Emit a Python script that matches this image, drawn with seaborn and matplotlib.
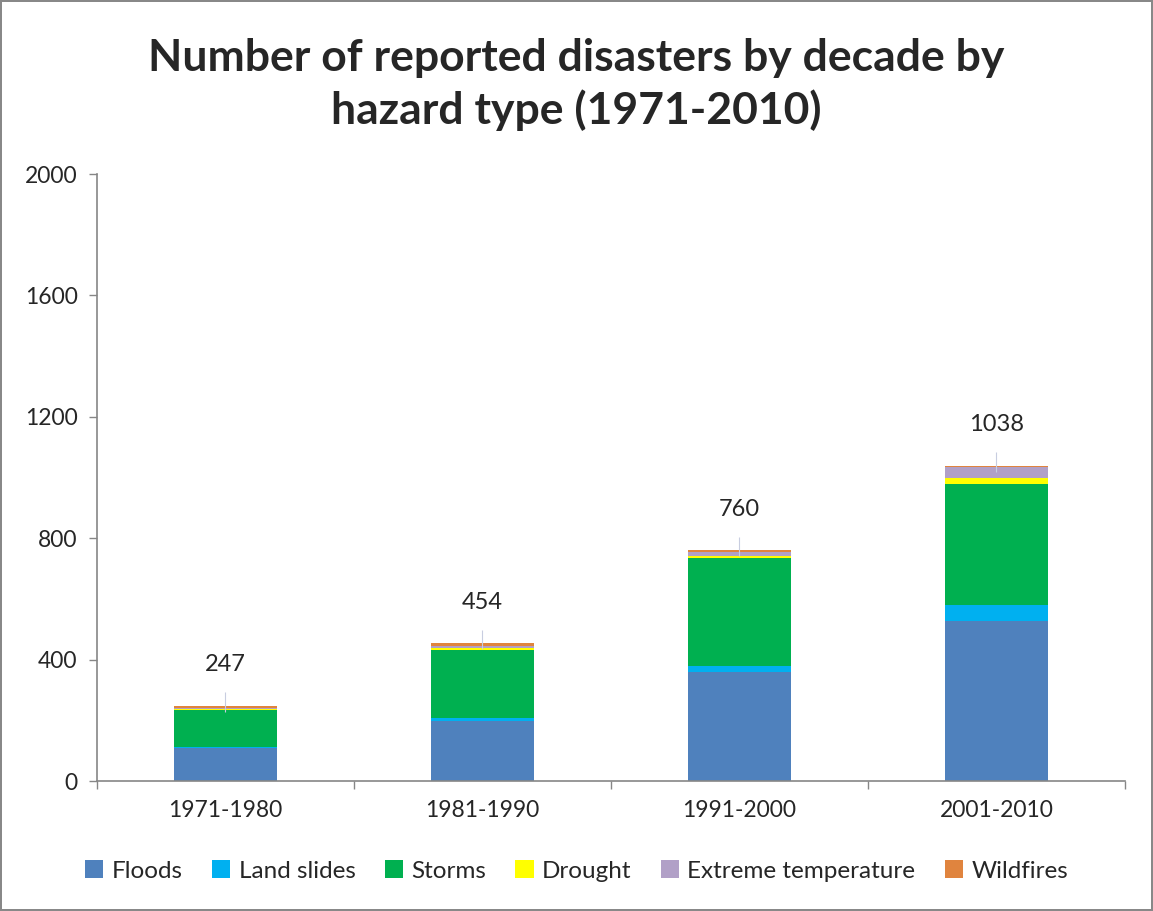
import numpy as np
import seaborn as sns
import matplotlib.pyplot as plt
from matplotlib.patches import Patch

sns.set_style('white')
plt.rcParams['font.family'] = ['Lato', 'DejaVu Sans']

decades = ['1971-1980', '1981-1990', '1991-2000', '2001-2010']
hazards = ['Floods', 'Land slides', 'Storms', 'Drought', 'Extreme temperature', 'Wildfires']
floods = [108, 198, 358, 528]
land_slides = [3, 11, 22, 51]
storms = [122, 224, 355, 400]
drought = [5, 5, 8, 19]
extreme_temp = [4, 8, 10, 35]
wildfires = [5, 8, 7, 5]
totals = [247, 454, 760, 1038]
colors = ['#4f81bd', '#00b0f0', '#00b050', '#ffff00', '#b1a0c7', '#e0843e']

layers = np.array([floods, land_slides, storms, drought, extreme_temp, wildfires])
cum = layers.cumsum(axis=0)

fig = plt.figure(figsize=(11.53, 9.11), dpi=100)
fig.patch.set_edgecolor('#888888')
fig.patch.set_linewidth(1.5)
ax = fig.add_axes([0.0841, 0.1427, 0.8916, 0.6663])

# draw from top layer down so each shorter bar covers the one behind
for i in range(len(hazards) - 1, -1, -1):
    sns.barplot(x=decades, y=cum[i], color=colors[i], width=0.4, ax=ax,
                saturation=1, linewidth=0)

for i, t in enumerate(totals):
    ax.vlines(i, t - 20, t + 45, color='#c8cde0', lw=0.8)
    ax.annotate(str(t), (i, t), xytext=(0, 22), textcoords='offset points',
                ha='center', va='bottom', fontsize=17)

ax.set_ylim(0, 2000)
ax.set_xlim(-0.5, 3.5)
ax.set_yticks(range(0, 2001, 400))
ax.set_xticks(range(4))
ax.set_xticks(np.arange(-0.5, 4, 1), minor=True)
ax.tick_params(axis='y', which='major', length=6, width=1, color='#868686',
               labelsize=16.5, left=True, pad=8)
ax.tick_params(axis='x', which='major', length=0, labelsize=16.5, pad=14)
ax.tick_params(axis='x', which='minor', length=6, width=1, color='#868686',
               bottom=True)
for s in ['top', 'right']:
    ax.spines[s].set_visible(False)
for s in ['left', 'bottom']:
    ax.spines[s].set_color('#868686')
    ax.spines[s].set_linewidth(1.2)
ax.set_xlabel('')
ax.set_ylabel('')

fig.suptitle('Number of reported disasters by decade by\nhazard type (1971-2010)',
             fontsize=32, fontweight='bold', y=0.958, linespacing=1.33)

handles = [Patch(facecolor=c, edgecolor='none') for c in colors]
fig.legend(handles, hazards, loc='center', bbox_to_anchor=(0.5, 0.044), ncol=6,
           frameon=False, fontsize=17.5, handlelength=0.75, handleheight=0.75,
           handletextpad=0.35, columnspacing=1.2)

fig.savefig('out.png', dpi=100)
